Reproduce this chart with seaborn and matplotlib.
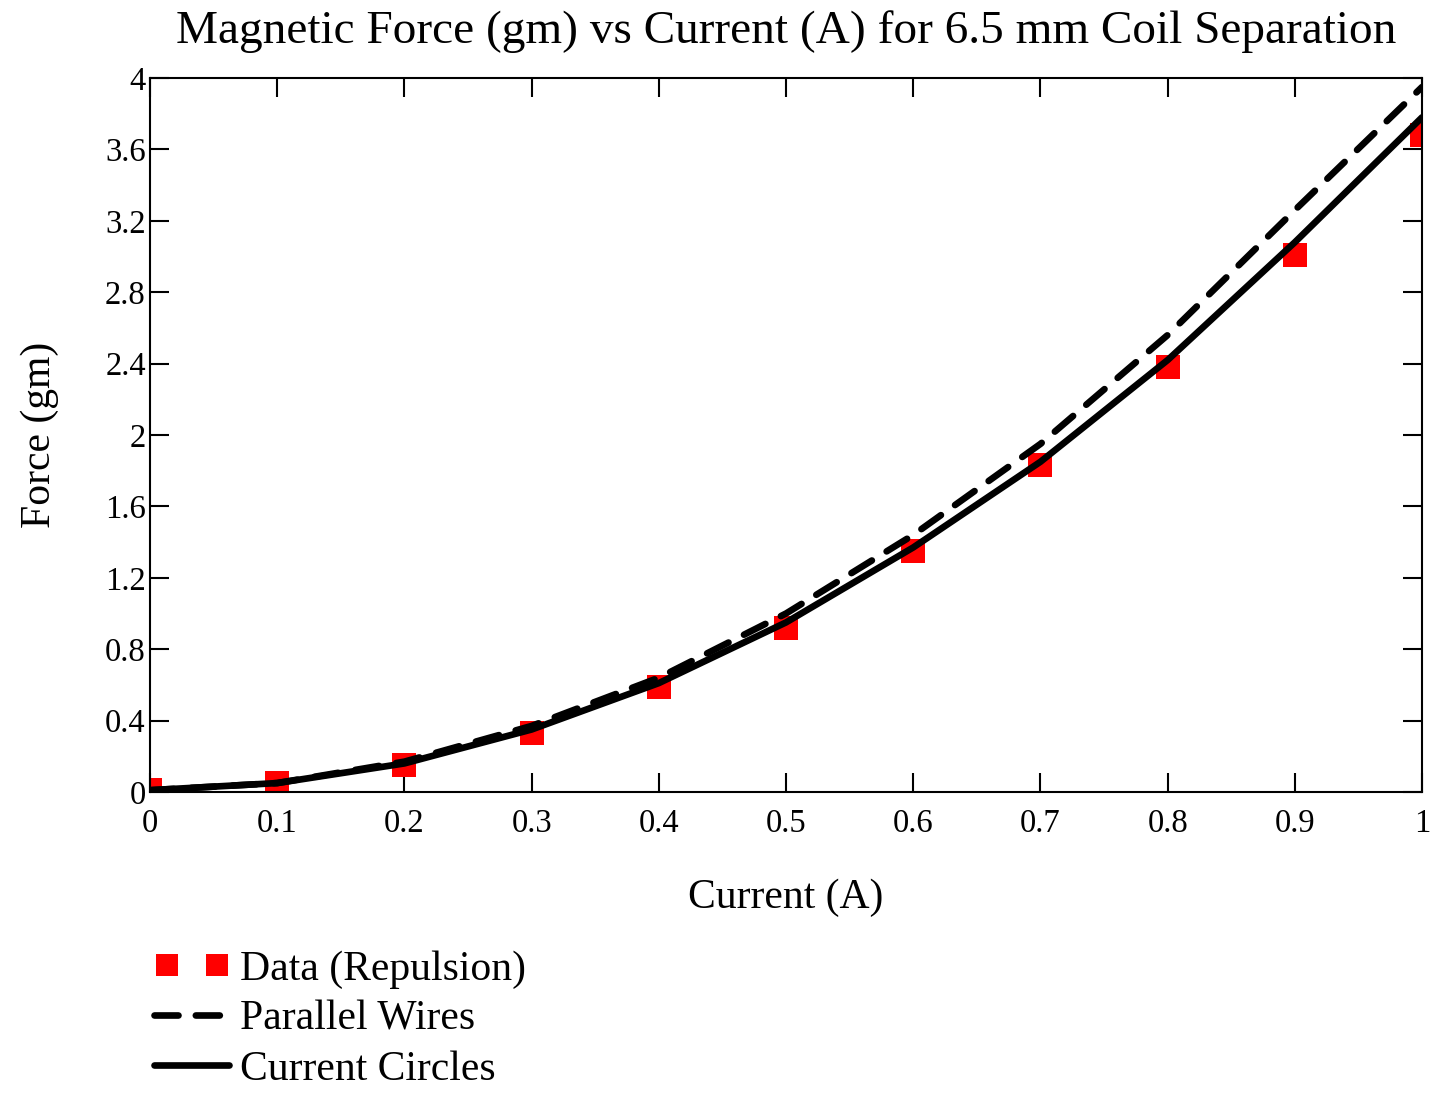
import matplotlib
matplotlib.use("Agg")
import matplotlib.pyplot as plt
import seaborn as sns
import pandas as pd

current = [0.0, 0.1, 0.2, 0.3, 0.4, 0.5, 0.6, 0.7, 0.8, 0.9, 1.0]
force_data = [0.01, 0.05, 0.15, 0.33, 0.59, 0.92, 1.35, 1.83, 2.38, 3.01, 3.68]
force_wires = [0.01, 0.05, 0.17, 0.37, 0.64, 1.00, 1.44, 1.95, 2.56, 3.26, 3.95]
force_circles = [0.01, 0.05, 0.16, 0.35, 0.61, 0.95, 1.37, 1.85, 2.42, 3.08, 3.78]

x_ticks = [0, 0.1, 0.2, 0.3, 0.4, 0.5, 0.6, 0.7, 0.8, 0.9, 1]
x_labels = ["0", "0.1", "0.2", "0.3", "0.4", "0.5", "0.6", "0.7", "0.8", "0.9", "1"]
y_ticks = [0, 0.4, 0.8, 1.2, 1.6, 2, 2.4, 2.8, 3.2, 3.6, 4]
y_labels = ["0", "0.4", "0.8", "1.2", "1.6", "2", "2.4", "2.8", "3.2", "3.6", "4"]

df = pd.DataFrame({"I": current, "data": force_data,
                   "wires": force_wires, "circles": force_circles})

sns.set_style("ticks")
plt.rcParams["font.family"] = ["Liberation Serif", "DejaVu Serif"]
plt.rcParams["text.color"] = "black"
plt.rcParams["axes.labelcolor"] = "black"

fig = plt.figure(figsize=(14.35, 10.93), dpi=100)
ax = fig.add_axes([0.1045, 0.2754, 0.8865, 0.6532])

sns.scatterplot(data=df, x="I", y="data", marker="s", s=300, color="#ff0000",
                edgecolor="none", ax=ax, zorder=2, label="Data (Repulsion)")
sns.lineplot(data=df, x="I", y="wires", color="black", lw=4.8, ax=ax,
             zorder=3, label="Parallel Wires")
ax.lines[-1].set_dashes([3.6, 2.6])
ax.lines[-1].set_dash_capstyle("round")
sns.lineplot(data=df, x="I", y="circles", color="black", lw=4.8, ax=ax,
             zorder=4, label="Current Circles")

ax.set_xlim(0, 1)
ax.set_ylim(0, 4)
ax.set_xticks(x_ticks)
ax.set_xticklabels(x_labels)
ax.set_yticks(y_ticks)
ax.set_yticklabels(y_labels)
ax.tick_params(direction="in", length=14, width=1.5, labelsize=23.5, colors="black",
               top=True, right=True)
ax.tick_params(axis="x", pad=12)
ax.tick_params(axis="y", pad=3)
for sp in ax.spines.values():
    sp.set_visible(True)
    sp.set_linewidth(1.5)
    sp.set_color("black")

ax.set_title("Magnetic Force (gm) vs Current (A) for 6.5 mm Coil Separation",
             fontsize=34, pad=25)
ax.set_xlabel("Current (A)", fontsize=30, labelpad=28)
ax.set_ylabel("Force (gm)", fontsize=30, labelpad=33)

ax.get_legend().remove()
h, l = ax.get_legend_handles_labels()
leg = fig.legend(h, l, loc="upper left", bbox_to_anchor=(0.096, 0.146), frameon=False,
                 fontsize=30, handlelength=1.8, handletextpad=0.25, labelspacing=0.28,
                 scatterpoints=2, scatteryoffsets=[0.5], borderaxespad=0)
leg.legend_handles[0].set_sizes([250])

fig.savefig("out.png", dpi=100)
